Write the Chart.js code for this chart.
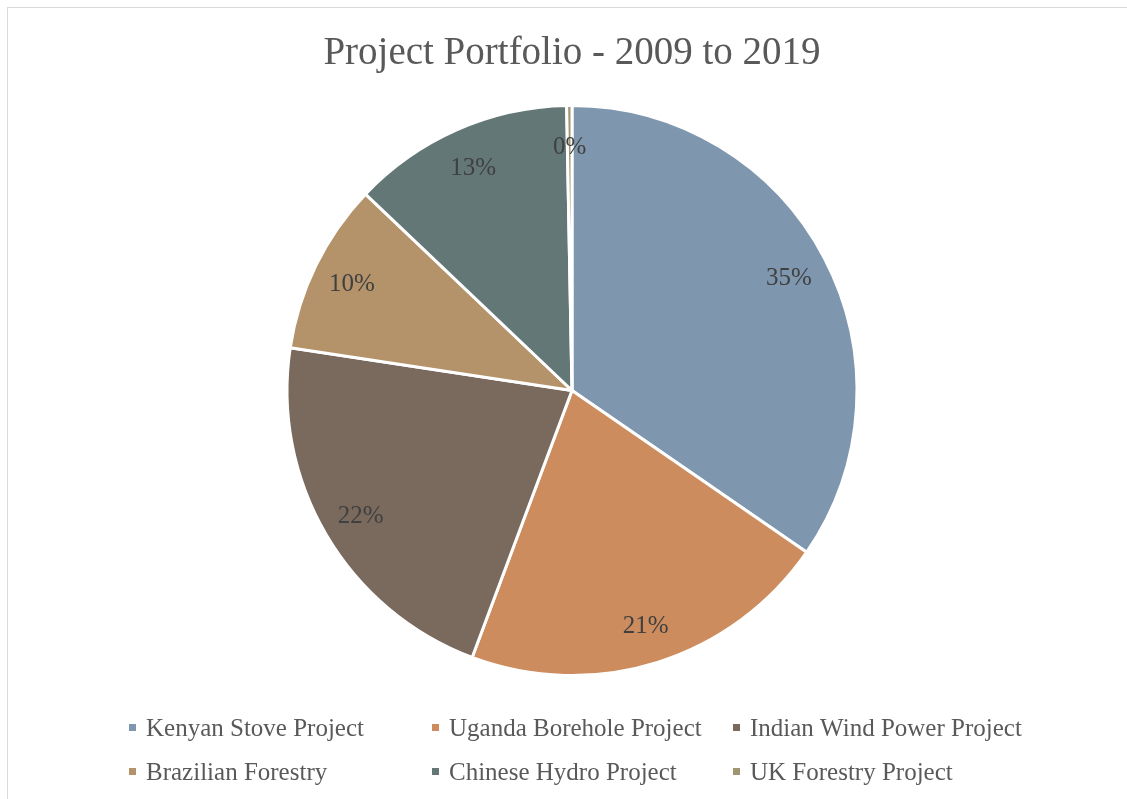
<!DOCTYPE html>
<html>
<head>
<meta charset="utf-8">
<script src="https://cdn.jsdelivr.net/npm/chart.js@4.4.1/dist/chart.umd.min.js"></script>
<style>
html,body{margin:0;padding:0;background:#fff;}
#wrap{position:relative;width:1127px;height:799px;}
</style>
</head>
<body>
<div id="wrap"><canvas id="c" width="1127" height="799"></canvas></div>
<script>
const chartTitle = 'Project Portfolio - 2009 to 2019';
const categories = ['Kenyan Stove Project','Uganda Borehole Project','Indian Wind Power Project','Brazilian Forestry','Chinese Hydro Project','UK Forestry Project'];
const shares = [34.6, 21.1, 21.7, 9.7, 12.6, 0.3];
const sliceColors = ['#7f97ae','#cc8c5e','#7a695d','#b4926a','#637777','#a09570'];

const SERIF = '"Liberation Serif", "DejaVu Serif", serif';

const decor = {
  id: 'decor',
  beforeDraw(chart) {
    const ctx = chart.ctx;
    ctx.save();
    ctx.fillStyle = '#ffffff';
    ctx.fillRect(0, 0, chart.width, chart.height);
    ctx.strokeStyle = '#d9d9d9';
    ctx.lineWidth = 1;
    ctx.strokeRect(7.5, 7.5, 1300, 1000);
    ctx.restore();
  },
  afterDraw(chart) {
    const ctx = chart.ctx;
    ctx.save();
    // title
    ctx.fillStyle = '#595959';
    ctx.font = '39px ' + SERIF;
    ctx.textAlign = 'center';
    ctx.textBaseline = 'alphabetic';
    ctx.fillText(chartTitle, 572, 64);
    // percentage labels
    const meta = chart.getDatasetMeta(0);
    const total = shares.reduce((a, b) => a + b, 0);
    ctx.fillStyle = '#404040';
    ctx.font = '25px ' + SERIF;
    ctx.textBaseline = 'middle';
    meta.data.forEach((arc, i) => {
      const p = arc.getProps(['x','y','startAngle','endAngle','outerRadius'], true);
      const mid = (p.startAngle + p.endAngle) / 2;
      const r = p.outerRadius * 0.86;
      const txt = Math.round(shares[i] / total * 100) + '%';
      ctx.fillText(txt, p.x + Math.cos(mid) * r, p.y + Math.sin(mid) * r + 2);
    });
    // legend (3 columns x 2 rows)
    const colX = [129, 432, 733];
    const rowY = [728, 772];
    ctx.font = '25px ' + SERIF;
    ctx.textAlign = 'left';
    categories.forEach((name, i) => {
      const cx = colX[i % 3], cy = rowY[Math.floor(i / 3)];
      ctx.fillStyle = sliceColors[i];
      ctx.fillRect(cx, cy - 4, 7, 7);
      ctx.fillStyle = '#595959';
      ctx.fillText(name, cx + 17, cy + 1);
    });
    ctx.restore();
  }
};

new Chart(document.getElementById('c'), {
  type: 'pie',
  data: {
    labels: categories,
    datasets: [{
      data: shares,
      backgroundColor: sliceColors,
      borderColor: '#ffffff',
      borderWidth: 3
    }]
  },
  options: {
    responsive: false,
    animation: false,
    rotation: 0,
    layout: { padding: { top: 104, bottom: 122, left: 17, right: 0 } },
    plugins: {
      legend: { display: false },
      title: { display: false },
      tooltip: { enabled: false }
    }
  },
  plugins: [decor]
});
</script>
</body>
</html>
